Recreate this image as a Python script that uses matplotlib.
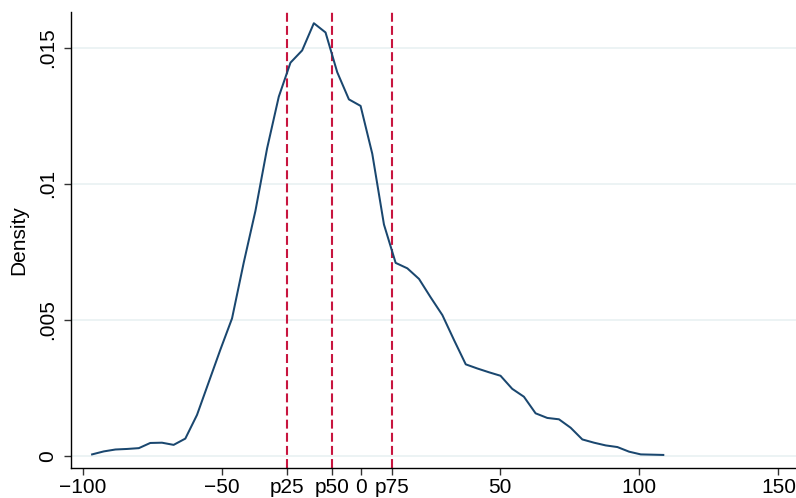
import numpy as np
import matplotlib
matplotlib.use("Agg")
import matplotlib.pyplot as plt

plt.rcParams['font.family'] = ['Liberation Sans', 'DejaVu Sans']

# density estimate
x_vals = [-96.7, -92.5, -88.3, -84.1, -79.9, -75.8, -71.6, -67.4, -63.2, -59.0,
          -54.8, -50.6, -46.4, -42.2, -38.0, -33.8, -29.6, -25.4, -21.2, -17.0,
          -12.8, -8.6, -4.4, -0.2, 4.0, 8.2, 12.4, 16.6, 20.8, 25.0,
          29.2, 33.4, 37.6, 41.7, 45.9, 50.1, 54.3, 58.5, 62.7, 66.9,
          71.1, 75.3, 79.5, 83.7, 87.9, 92.1, 96.3, 100.5, 104.6, 108.6]
density = [0.00005, 0.00016, 0.00023, 0.00025, 0.00028, 0.00047, 0.00048, 0.00040, 0.00063, 0.00150,
           0.00270, 0.00390, 0.00505, 0.00710, 0.00900, 0.01130, 0.01320, 0.01445, 0.01490, 0.01590,
           0.01556, 0.01410, 0.01310, 0.01286, 0.01110, 0.00850, 0.00709, 0.00689, 0.00650, 0.00582,
           0.00517, 0.00425, 0.00336, 0.00321, 0.00307, 0.00294, 0.00246, 0.00217, 0.00156, 0.00139,
           0.00134, 0.00103, 0.00060, 0.00048, 0.00038, 0.00032, 0.00015, 0.00005, 0.00004, 0.00003]

# percentile markers
pct_names = ['p25', 'p50', 'p75']
pct_vals = [-26.7, -10.6, 11.0]

x_ticks = [-100, -50, 0, 50, 100, 150]
y_ticks = [0, 0.005, 0.01, 0.015]
y_labels = ['0', '.005', '.01', '.015']

fig = plt.figure(figsize=(7.96, 4.98), dpi=100)
ax = fig.add_axes([0.0888, 0.0608, 0.9112, 0.915])

for y in y_ticks:
    ax.axhline(y, color='#eaf2f3', lw=1.3, zorder=0)

ax.plot(x_vals, density, color='#1a476f', lw=1.45, zorder=3)

for v in pct_vals:
    ax.axvline(v, color='#c8153f', lw=1.5, dashes=(4.3, 2.0), zorder=2)

ax.set_xlim(-104.4, 156.3)
ax.set_ylim(-0.00044, 0.01631)

ticks = x_ticks + pct_vals
labels = [('\u2212' + str(abs(t)) if t < 0 else str(t)) for t in x_ticks] + pct_names
ax.set_xticks(ticks)
ax.set_xticklabels(labels)
ax.set_yticks(y_ticks)
ax.set_yticklabels(y_labels, rotation=90, va='center')

ax.tick_params(axis='both', labelsize=15, length=5, width=1.0, color='#333333', direction='out')
ax.tick_params(axis='x', pad=2.5)
ax.tick_params(axis='y', pad=4.5)

ax.spines['top'].set_visible(False)
ax.spines['right'].set_visible(False)
ax.spines['left'].set_linewidth(1.0)
ax.spines['bottom'].set_linewidth(1.0)

ax.set_ylabel('Density', fontsize=15)
ax.yaxis.set_label_coords(-0.058, 0.5)

fig.savefig('out.png', dpi=100)
